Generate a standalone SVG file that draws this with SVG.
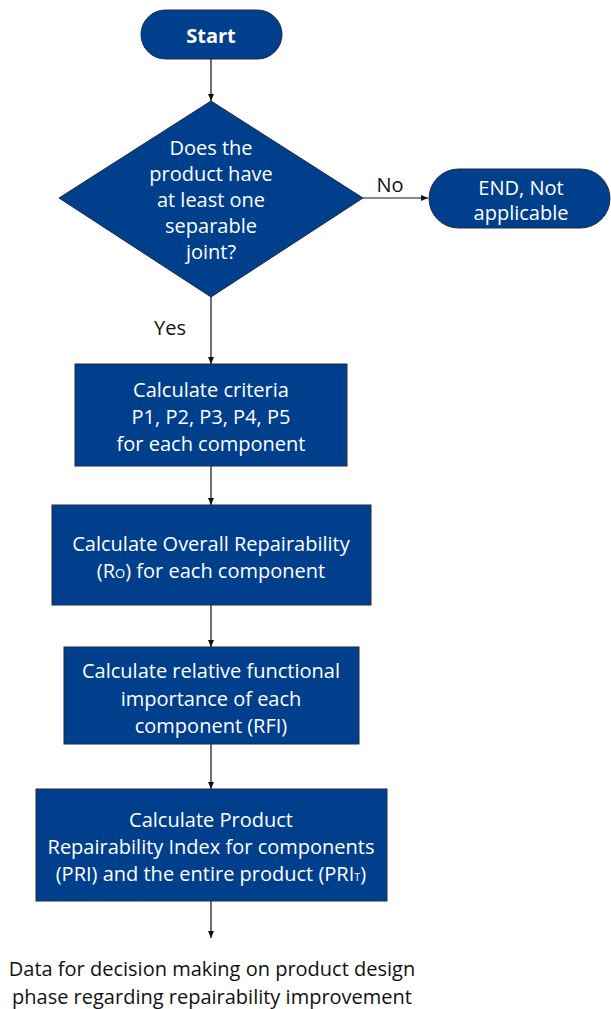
<svg xmlns="http://www.w3.org/2000/svg" width="611" height="1009" viewBox="0 0 611 1009">
<style>
.n{fill:#003f8c;stroke:#1c2b45;stroke-width:1}
.t{font-family:"Open Sans","Noto Sans",sans-serif;font-size:20px;fill:#ffffff;text-anchor:middle;dominant-baseline:central}
.l{font-family:"Open Sans","Noto Sans",sans-serif;font-size:20px;fill:#111111;text-anchor:middle;dominant-baseline:central}
.c{stroke:#111111;stroke-width:1.2;fill:none;marker-end:url(#ah)}
</style>
<defs>
<marker id="ah" markerWidth="8" markerHeight="8" refX="7" refY="4" orient="auto" markerUnits="userSpaceOnUse">
<path d="M0,1 L7,4 L0,7 Z" fill="#111111"/>
</marker>
</defs>
<g id="connectors">
<line class="c" x1="211" y1="59" x2="211" y2="101"/>
<line class="c" x1="363" y1="198" x2="428" y2="198"/>
<line class="c" x1="211" y1="297" x2="211" y2="364"/>
<line class="c" x1="211" y1="466" x2="211" y2="505"/>
<line class="c" x1="211" y1="605" x2="211" y2="647"/>
<line class="c" x1="211" y1="744" x2="211" y2="789"/>
<line class="c" x1="211" y1="901" x2="211" y2="938"/>
<text class="l" x="390" y="184">No</text>
<text class="l" x="170" y="327">Yes</text>
</g>
<g id="start">
<rect class="n" x="141" y="10" width="141" height="49" rx="24.5"/>
<text class="t" x="211" y="35" font-weight="bold">Start</text>
</g>
<g id="decision">
<polygon class="n" points="211,101 363,198 211,297 59,198"/>
<text class="t" x="211" y="147">Does the</text>
<text class="t" x="211" y="173">product have</text>
<text class="t" x="211" y="199">at least one</text>
<text class="t" x="211" y="225">separable</text>
<text class="t" x="211" y="251">joint?</text>
</g>
<g id="end">
<rect class="n" x="429" y="169" width="181" height="59" rx="29.5"/>
<text class="t" x="521" y="187">END, Not</text>
<text class="t" x="521" y="212">applicable</text>
</g>
<g id="box1">
<rect class="n" x="75" y="364" width="272" height="102"/>
<text class="t" x="211" y="389">Calculate criteria</text>
<text class="t" x="211" y="416">P1, P2, P3, P4, P5</text>
<text class="t" x="211" y="443">for each component</text>
</g>
<g id="box2">
<rect class="n" x="52" y="505" width="319" height="100"/>
<text class="t" x="211" y="543">Calculate Overall Repairability</text>
<text class="t" x="211" y="570">(R<tspan font-size="13" dy="3">O</tspan><tspan dy="-3">) for each component</tspan></text>
</g>
<g id="box3">
<rect class="n" x="64" y="647" width="295" height="97"/>
<text class="t" x="211" y="670">Calculate relative functional</text>
<text class="t" x="211" y="698">importance of each</text>
<text class="t" x="211" y="725">component (RFI)</text>
</g>
<g id="box4">
<rect class="n" x="36" y="789" width="351" height="112"/>
<text class="t" x="211" y="819">Calculate Product</text>
<text class="t" x="211" y="846">Repairability Index for components</text>
<text class="t" x="211" y="873">(PRI) and the entire product (PRI<tspan font-size="11" dy="3">T</tspan><tspan dy="-3">)</tspan></text>
</g>
<g id="output">
<text class="l" x="212" y="968">Data for decision making on product design</text>
<text class="l" x="212" y="996">phase regarding repairability improvement</text>
</g>
</svg>
